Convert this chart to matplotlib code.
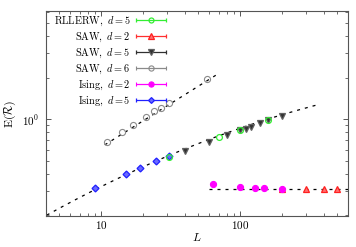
import numpy as np
import matplotlib
matplotlib.use("Agg")
import matplotlib.pyplot as plt
from matplotlib.legend_handler import HandlerErrorbar
from matplotlib.ticker import LogLocator, NullFormatter, FixedLocator, FixedFormatter

plt.rcParams['mathtext.fontset'] = 'cm'
plt.rcParams['font.family'] = ['DejaVu Serif']

# ---- data ----
rllerw5_L = [31, 70, 100, 160]
rllerw5_E = [0.534, 0.743, 0.836, 0.983]

saw2_L = [200, 300, 400, 500]
saw2_E = [0.312, 0.311, 0.311, 0.311]

saw5_L = [40, 60, 80, 100, 110, 120, 140, 160, 200]
saw5_E = [0.588, 0.687, 0.773, 0.836, 0.854, 0.884, 0.940, 0.980, 1.057]

saw6_L = [11, 14, 17, 21, 24, 27, 31, 58]
saw6_E = [0.68, 0.81, 0.91, 1.04, 1.15, 1.21, 1.31, 1.96]

ising2_L = [64, 100, 128, 150, 200]
ising2_E = [0.336, 0.3235, 0.318, 0.315, 0.309]

ising5_L = [9, 15, 19, 25, 31]
ising5_E = [0.318, 0.398, 0.44, 0.50, 0.538]

# fitted curves (log10 E = A + B log10 L + C (log10 L)^2)
fitA_coef = (-1.0645, 0.6509, -0.0759)
fitA_range = (4.05, 375)
fitB_coef = (-0.835, 0.632, 0.0)
fitB_range = (10.6, 68)
fitC_value = 0.311
fitC_range = (60, 600)

labels = [r'$\mathrm{RLLERW},\ d=5$', r'$\mathrm{SAW},\ d=2$', r'$\mathrm{SAW},\ d=5$',
          r'$\mathrm{SAW},\ d=6$', r'$\mathrm{Ising},\ d=2$', r'$\mathrm{Ising},\ d=5$']

fig = plt.figure(figsize=(3.56, 2.47), dpi=100)
ax = fig.add_axes([46/356, 1-216/247, 302/356, 205/247])
ax.set_xscale('log')
ax.set_yscale('log')

dash = (0, (2.4, 4))
def curve(coef, rng):
    L = np.geomspace(rng[0], rng[1], 300)
    u = np.log10(L)
    return L, 10**(coef[0] + coef[1]*u + coef[2]*u*u)

for coef, rng in [(fitA_coef, fitA_range), (fitB_coef, fitB_range)]:
    xs, ys = curve(coef, rng)
    ax.plot(xs, ys, color='black', lw=0.9, linestyle=dash, zorder=1)
xs = np.geomspace(fitC_range[0], fitC_range[1], 10)
ax.plot(xs, np.full_like(xs, fitC_value), color='black', lw=0.9, linestyle=dash, zorder=1)

styles = [
    dict(marker='o', ms=4.2, mfc='none', mec='#33ee33', color='#33ee33', mew=0.9),
    dict(marker='^', ms=4.3, mfc='#ff7070', mec='#ff2020', color='#ff3030', mew=0.9),
    dict(marker='v', ms=4.3, mfc='#303030', mec='#606060', color='#303030', mew=0.9),
    dict(marker='o', ms=4.4, mfc='none', mec='#8a8a8a', color='#8a8a8a', mew=0.8),
    dict(marker='o', ms=4.4, mfc='#ff00ff', mec='#ff00ff', color='#ff00ff', mew=0.8),
    dict(marker='D', ms=3.5, mfc='#6a6aff', mec='#2020ff', color='#2020ff', mew=0.9),
]
datasets = [(rllerw5_L, rllerw5_E), (saw2_L, saw2_E), (saw5_L, saw5_E),
            (saw6_L, saw6_E), (ising2_L, ising2_E), (ising5_L, ising5_E)]

order = [3, 2, 1, 4, 5, 0]
for i in order:
    L, E = datasets[i]
    st = dict(styles[i])
    ax.plot(L, E, linestyle='none', zorder=3, **{k: v for k, v in st.items() if k != 'color'})

handles = []
for i in range(6):
    st = styles[i]
    h = ax.errorbar([np.nan], [np.nan], xerr=[1.0], fmt=st['marker'],
                    ms=st['ms'] * 0.85, mfc=st['mfc'], mec=st['mec'], mew=st['mew'],
                    ecolor=st['color'], elinewidth=0.9, capsize=1.6, capthick=0.9,
                    linestyle='none')
    handles.append(h)

fs = 7.4
leg = ax.legend(handles, labels, loc='upper right', bbox_to_anchor=(0.396, 0.984),
                markerfirst=False, frameon=False, fontsize=fs, handlelength=21.6/fs,
                handletextpad=0.5, labelspacing=0.26, borderpad=0.0, borderaxespad=0.0,
                numpoints=1,
                handler_map={type(handles[0]): HandlerErrorbar(xerr_size=10.8/fs)})

ax.set_xlim(4, 600)
ax.set_ylim(0.198, 6.1)

ax.xaxis.set_major_locator(FixedLocator([10, 100]))
ax.xaxis.set_major_formatter(FixedFormatter([r'$10$', r'$100$']))
ax.xaxis.set_minor_locator(LogLocator(base=10, subs=np.arange(2, 10)))
ax.xaxis.set_minor_formatter(NullFormatter())
ax.yaxis.set_major_locator(FixedLocator([1.0]))
ax.yaxis.set_major_formatter(FixedFormatter([r'$10^0$']))
ax.yaxis.set_minor_locator(LogLocator(base=10, subs=np.arange(2, 10)))
ax.yaxis.set_minor_formatter(NullFormatter())

spine_c = '#555555'
for s in ax.spines.values():
    s.set_color(spine_c)
    s.set_linewidth(0.8)
ax.tick_params(which='both', direction='in', top=True, right=True, colors=spine_c,
               labelcolor='black', labelsize=8)
ax.tick_params(which='major', length=3.5, width=0.7)
ax.tick_params(which='minor', length=2, width=0.6)
ax.tick_params(axis='x', which='major', pad=2)
ax.tick_params(axis='y', which='major', pad=5)

ax.set_xlabel(r'$L$', fontsize=8.5, labelpad=0)
ax.set_ylabel(r'$\mathrm{E}(\mathcal{R})$', fontsize=8.5, labelpad=3)

fig.savefig('out.png', dpi=100)
